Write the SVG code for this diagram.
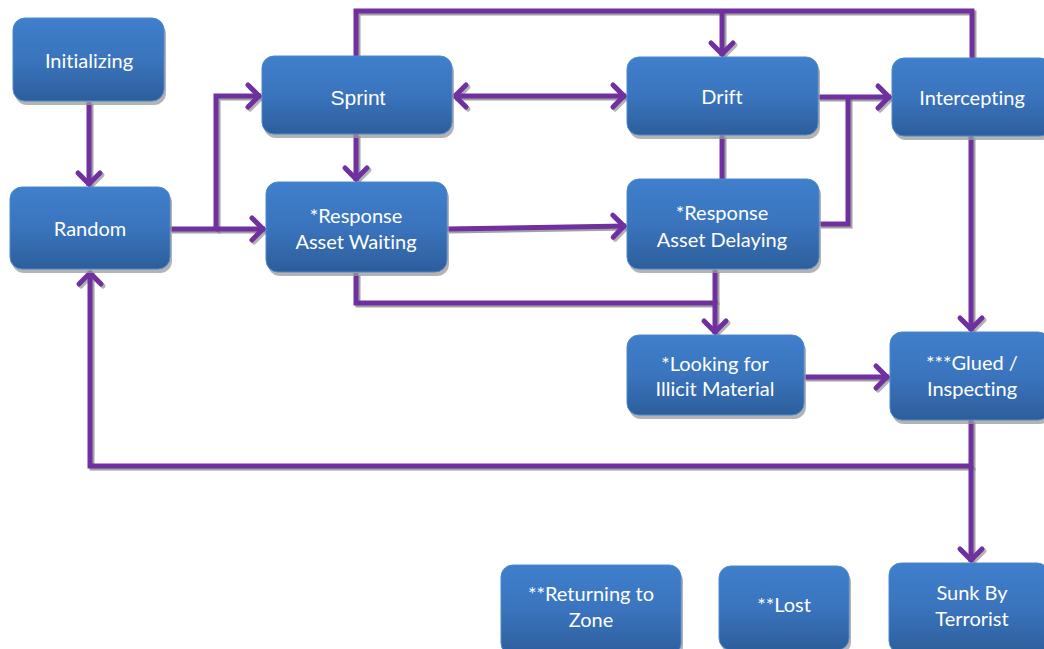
<svg xmlns="http://www.w3.org/2000/svg" width="1044" height="649" viewBox="0 0 1044 649">
<defs>
<linearGradient id="boxg" x1="0" y1="0" x2="0" y2="1">
<stop offset="0" stop-color="#3f7fcc"/>
<stop offset="0.5" stop-color="#3a74bd"/>
<stop offset="1" stop-color="#2d5e9b"/>
</linearGradient>
<marker id="ah" markerUnits="userSpaceOnUse" markerWidth="30" markerHeight="30" viewBox="-16 -15 20 30" refX="0" refY="0" orient="auto-start-reverse" overflow="visible">
<path d="M -13 -11 L -2 0 L -13 11" fill="none" stroke="#7030a0" stroke-width="5" stroke-linecap="round" stroke-linejoin="miter"/>
</marker>
<marker id="ahs" markerUnits="userSpaceOnUse" markerWidth="30" markerHeight="30" viewBox="-16 -15 20 30" refX="0" refY="0" orient="auto-start-reverse" overflow="visible">
<path d="M -13 -11 L -2 0 L -13 11" fill="none" stroke="#8a8a8a" stroke-width="5" stroke-linecap="round" stroke-linejoin="miter" opacity="0.8"/>
</marker>
</defs>
<style>
.box{fill:url(#boxg);stroke:#4d88cf;stroke-width:1}
.sh{fill:#9a9a9a;opacity:0.75}
.t{font-family:Lato,"Open Sans",sans-serif;font-size:20px;font-weight:400;fill:#ffffff;text-anchor:middle;font-variant-ligatures:none}
.ta{font-family:"Liberation Sans",Arial,sans-serif;font-size:21px;fill:#ffffff;text-anchor:middle}
.c{fill:none;stroke:#7030a0;stroke-width:5;stroke-linejoin:miter}
.cs{fill:none;stroke:#8a8a8a;stroke-width:5;opacity:0.8;stroke-linejoin:miter}
</style>
<rect width="1044" height="649" fill="#ffffff"/>

<g id="connectors">
<g transform="translate(2,2)">
<path class="cs" d="M89 102 V186" marker-end="url(#ahs)"/>
<path class="cs" d="M170 229 H216 V96 H261" marker-end="url(#ahs)"/>
<path class="cs" d="M216 229 H265" marker-end="url(#ahs)"/>
<path class="cs" d="M453 96 H626" marker-start="url(#ahs)" marker-end="url(#ahs)"/>
<path class="cs" d="M356 134 V181" marker-end="url(#ahs)"/>
<path class="cs" d="M356 56 V11 H972 V58"/>
<path class="cs" d="M722 11 V56" marker-end="url(#ahs)"/>
<path class="cs" d="M447 229 L626 226" marker-end="url(#ahs)"/>
<path class="cs" d="M722 135 V179"/>
<path class="cs" d="M818 97 H891" marker-end="url(#ahs)"/>
<path class="cs" d="M819 224 H848 V97"/>
<path class="cs" d="M356 273 V303 H715 V334" marker-end="url(#ahs)"/>
<path class="cs" d="M715 270 V303"/>
<path class="cs" d="M804 377 H889" marker-end="url(#ahs)"/>
<path class="cs" d="M971 136 V331" marker-end="url(#ahs)"/>
<path class="cs" d="M971 420 V466 H90 V271" marker-end="url(#ahs)"/>
<path class="cs" d="M971 466 V562" marker-end="url(#ahs)"/>
</g>
<path class="c" d="M89 102 V186" marker-end="url(#ah)"/>
<path class="c" d="M170 229 H216 V96 H261" marker-end="url(#ah)"/>
<path class="c" d="M216 229 H265" marker-end="url(#ah)"/>
<path class="c" d="M453 96 H626" marker-start="url(#ah)" marker-end="url(#ah)"/>
<path class="c" d="M356 134 V181" marker-end="url(#ah)"/>
<path class="c" d="M356 56 V11 H972 V58"/>
<path class="c" d="M722 11 V56" marker-end="url(#ah)"/>
<path class="c" d="M447 229 L626 226" marker-end="url(#ah)"/>
<path class="c" d="M722 135 V179"/>
<path class="c" d="M818 97 H891" marker-end="url(#ah)"/>
<path class="c" d="M819 224 H848 V97"/>
<path class="c" d="M356 273 V303 H715 V334" marker-end="url(#ah)"/>
<path class="c" d="M715 270 V303"/>
<path class="c" d="M804 377 H889" marker-end="url(#ah)"/>
<path class="c" d="M971 136 V331" marker-end="url(#ah)"/>
<path class="c" d="M971 420 V466 H90 V271" marker-end="url(#ah)"/>
<path class="c" d="M971 466 V562" marker-end="url(#ah)"/>
</g>

<g id="initializing">
<rect class="sh" x="15" y="22" width="151" height="83" rx="12"/>
<rect class="box" x="13" y="18" width="151" height="83" rx="12"/>
<text class="t" x="89" y="68">Initializing</text>
</g>
<g id="random">
<rect class="sh" x="12" y="191" width="160" height="82" rx="12"/>
<rect class="box" x="10" y="187" width="160" height="82" rx="12"/>
<text class="t" x="90" y="236">Random</text>
</g>
<g id="sprint">
<rect class="sh" x="264" y="60" width="190" height="78" rx="12"/>
<rect class="box" x="262" y="56" width="190" height="78" rx="12"/>
<text class="ta" x="358" y="105">Sprint</text>
</g>
<g id="response-waiting">
<rect class="sh" x="268" y="186" width="181" height="90" rx="12"/>
<rect class="box" x="266" y="182" width="181" height="90" rx="12"/>
<text class="t" x="356" y="223">*Response</text>
<text class="t" x="356" y="249">Asset Waiting</text>
</g>
<g id="drift">
<rect class="sh" x="629" y="61" width="191" height="78" rx="12"/>
<rect class="box" x="627" y="57" width="191" height="78" rx="12"/>
<text class="t" x="722" y="104">Drift</text>
</g>
<g id="response-delaying">
<rect class="sh" x="629" y="183" width="192" height="90" rx="12"/>
<rect class="box" x="627" y="179" width="192" height="90" rx="12"/>
<text class="t" x="722" y="220">*Response</text>
<text class="t" x="722" y="247">Asset Delaying</text>
</g>
<g id="intercepting">
<rect class="sh" x="894" y="62" width="160" height="78" rx="12"/>
<rect class="box" x="892" y="58" width="160" height="78" rx="12"/>
<text class="t" x="972" y="105">Intercepting</text>
</g>
<g id="looking">
<rect class="sh" x="629" y="339" width="177" height="80" rx="12"/>
<rect class="box" x="627" y="335" width="177" height="80" rx="12"/>
<text class="t" x="715" y="371">*Looking for</text>
<text class="t" x="715" y="396">Illicit Material</text>
</g>
<g id="glued">
<rect class="sh" x="892" y="336" width="160" height="88" rx="12"/>
<rect class="box" x="890" y="332" width="160" height="88" rx="12"/>
<text class="t" x="972" y="370">***Glued /</text>
<text class="t" x="972" y="396">Inspecting</text>
</g>
<g id="returning">
<rect class="sh" x="503" y="569" width="180" height="90" rx="12"/>
<rect class="box" x="501" y="565" width="180" height="90" rx="12"/>
<text class="t" x="591" y="601">**Returning to</text>
<text class="t" x="591" y="627">Zone</text>
</g>
<g id="lost">
<rect class="sh" x="721" y="570" width="130" height="84" rx="12"/>
<rect class="box" x="719" y="566" width="130" height="84" rx="12"/>
<text class="t" x="784" y="612">**Lost</text>
</g>
<g id="sunk">
<rect class="sh" x="891" y="567" width="160" height="90" rx="12"/>
<rect class="box" x="889" y="563" width="160" height="90" rx="12"/>
<text class="t" x="972" y="600">Sunk By</text>
<text class="t" x="972" y="626">Terrorist</text>
</g>
</svg>
